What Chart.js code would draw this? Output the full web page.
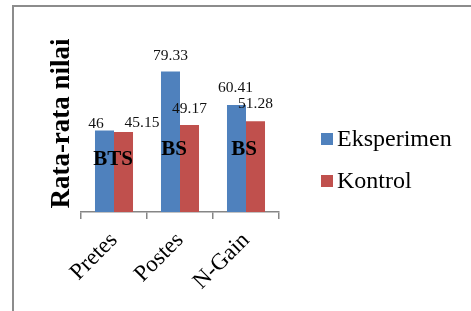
<!DOCTYPE html>
<html>

<head>
    <meta charset="utf-8" />
    <title>Rata-rata nilai</title>
    <style>
        body { margin: 0; background: #fff; }
        .frame { position: absolute; left: 12px; top: 5px; width: 459px; height: 306px;
                 border-left: 2px solid #8c8c8c; border-top: 2px solid #8c8c8c; }
        .wrap { position: absolute; left: 0; top: 0; width: 471px; height: 311px; }
        #legend { position: absolute; left: 321px; top: 124px; font-family: 'Liberation Serif', 'Times New Roman', serif;
                  font-size: 24px; color: #000; }
        #legend div { height: 42px; line-height: 28px; white-space: nowrap; }
        #legend span { display: inline-block; width: 12px; height: 12px; margin-right: 4px; vertical-align: 1px; }
    </style>
</head>

<body>
    <div class="frame"></div>
    <div class="wrap">
        <canvas id="chart" width="471" height="311"></canvas>
    </div>
    <div id="legend"></div>

    <script src="https://cdn.jsdelivr.net/npm/chart.js"></script>
    <script type="text/javascript">

        // Data
        const categories = ['Pretes', 'Postes', 'N-Gain'];
        const eksperimen = [46, 79.33, 60.41];
        const kontrol = [45.15, 49.17, 51.28];
        const notes = ['BTS', 'BS', 'BS'];

        const serif = "'Liberation Serif', 'Times New Roman', serif";

        // value labels above the bars + the BTS/BS notes
        const barText = {
            id: 'barText',
            afterDatasetsDraw(chart, args, opts) {
                const ctx = chart.ctx;
                ctx.save();
                ctx.fillStyle = '#111';
                ctx.textAlign = 'center';
                ctx.textBaseline = 'middle';
                ctx.font = '15.5px ' + serif;
                chart.data.datasets.forEach((ds, d) => {
                    chart.getDatasetMeta(d).data.forEach((bar, i) => {
                        const off = opts.offsets[d][i];
                        ctx.fillText(String(ds.data[i]), bar.x + off[0], bar.y + off[1]);
                    });
                });
                // notes in the middle of each group
                const x = chart.scales.x, y = chart.scales.y;
                ctx.font = 'bold 21px ' + serif;
                ctx.fillStyle = '#000';
                notes.forEach((t, i) => {
                    const p = opts.notePos[i];
                    ctx.fillText(t, x.getPixelForValue(i) + p[0], y.getPixelForValue(p[1]));
                });
                ctx.restore();
            }
        };

        const ctx = document.getElementById('chart').getContext('2d');
        const chart = new Chart(ctx, {
            type: 'bar',
            data: {
                labels: categories,
                datasets: [{
                    label: 'Eksperimen',
                    data: eksperimen,
                    backgroundColor: '#4f81bd',
                    categoryPercentage: 0.576,
                    barPercentage: 1
                }, {
                    label: 'Kontrol',
                    data: kontrol,
                    backgroundColor: '#c0504d',
                    categoryPercentage: 0.576,
                    barPercentage: 1
                }]
            },
            plugins: [barText],
            options: {
                responsive: false,
                animation: false,
                layout: { padding: { left: 42, top: 35, right: 192, bottom: 0 } },
                scales: {
                    x: {
                        grid: { drawOnChartArea: false, drawTicks: true, tickLength: 7, color: '#868686', lineWidth: 1.5 },
                        border: { color: '#868686', width: 1.5 },
                        ticks: { maxRotation: 45, minRotation: 45, padding: 8, color: '#000', font: { family: serif, size: 23 } },
                        afterFit(s) { s.height = 99; }
                    },
                    y: {
                        min: 0,
                        max: 100,
                        grid: { display: false },
                        border: { display: false },
                        ticks: { display: false },
                        title: { display: true, text: 'Rata-rata nilai', color: '#000', font: { family: serif, size: 27, weight: 'bold' } },
                        afterFit(s) { s.width = 39; }
                    }
                },
                plugins: {
                    legend: { display: false },
                    tooltip: { enabled: false },
                    barText: {
                        offsets: [
                            [[-8.5, -7], [0, -16], [-1, -17]],
                            [[18.5, -9], [0, -16], [0, -17]]
                        ],
                        notePos: [[-1, 29.5], [-6, 35], [-2, 35]]
                    }
                }
            }
        });

        // legend built from the datasets
        const legend = document.getElementById('legend');
        chart.data.datasets.forEach(ds => {
            const row = document.createElement('div');
            const box = document.createElement('span');
            box.style.background = ds.backgroundColor;
            row.appendChild(box);
            row.appendChild(document.createTextNode(ds.label));
            legend.appendChild(row);
        });

    </script>

</body>

</html>
